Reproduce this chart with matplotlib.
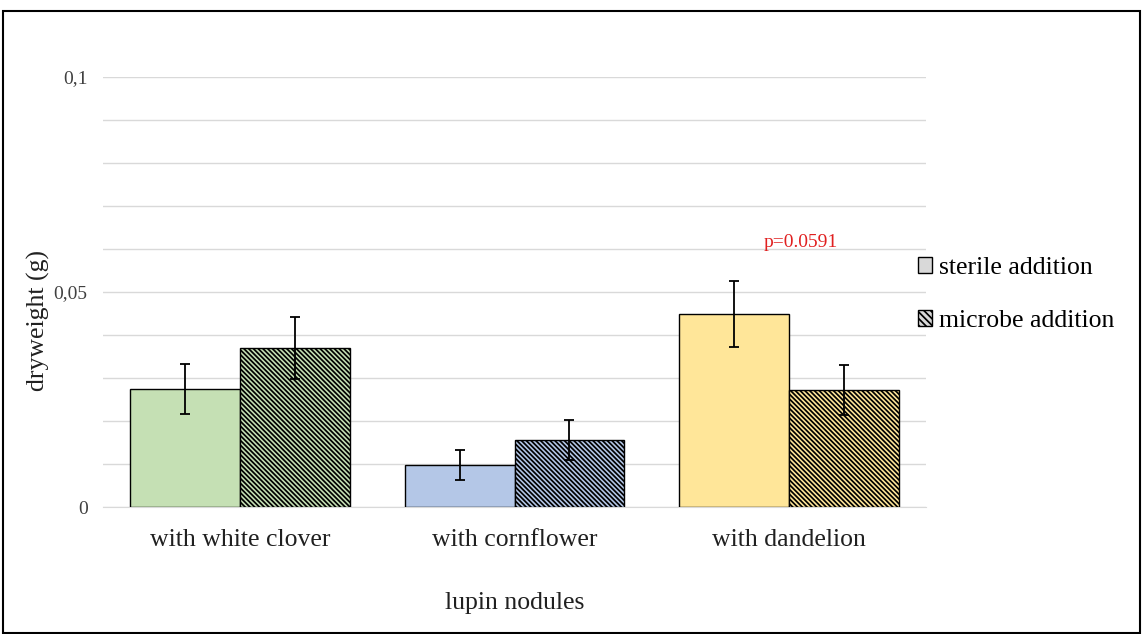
import numpy as np
import matplotlib
matplotlib.use("Agg")
from matplotlib import pyplot as plt
from matplotlib.patches import Patch, Rectangle

# data
categories = ["with white clover", "with cornflower", "with dandelion"]
sterile = [0.0274, 0.0098, 0.0449]
sterile_err = [0.0058, 0.0035, 0.0077]
microbe = [0.0370, 0.0156, 0.0272]
microbe_err = [0.0072, 0.0046, 0.0058]
bar_colors = ["#c5e0b4", "#b4c7e7", "#ffe699"]
series_names = ["sterile addition", "microbe addition"]
y_ticks = [0, 0.05, 0.1]
y_tick_labels = ["0", "0,05", "0,1"]
p_label = "p=0.0591"

plt.rcParams['font.family'] = ['Liberation Serif', 'DejaVu Serif']
plt.rcParams['hatch.linewidth'] = 1.25

W, H = 1143, 634
fig = plt.figure(figsize=(W / 100, H / 100), dpi=100)
ax = fig.add_axes([103 / W, (H - 507) / H, (926 - 103) / W, (507 - 77) / H])

x = np.arange(len(categories))
bw = 0.4
hatch = '\\' * 7

ax.bar(x - bw / 2, sterile, bw, color=bar_colors, edgecolor='black', linewidth=1, zorder=3)
ax.bar(x + bw / 2, microbe, bw, color=bar_colors, edgecolor='black', linewidth=1,
       hatch=hatch, zorder=3)
ax.errorbar(x - bw / 2, sterile, yerr=sterile_err, fmt='none', ecolor='black',
            elinewidth=1.3, capsize=3.5, capthick=1.3, zorder=4)
ax.errorbar(x + bw / 2, microbe, yerr=microbe_err, fmt='none', ecolor='black',
            elinewidth=1.3, capsize=3.5, capthick=1.3, zorder=4)

ax.set_xlim(-0.5, len(categories) - 0.5)
ax.set_ylim(0, 0.1)
ax.set_yticks(np.arange(0, 0.1001, 0.01), minor=True)
ax.set_yticks(y_ticks)
ax.set_yticklabels(y_tick_labels, fontsize=14, color='#404040')
ax.grid(axis='y', which='both', color='#d9d9d9', linewidth=1, zorder=0)
ax.tick_params(axis='y', which='both', length=0, pad=11)
ax.set_xticks(x)
ax.set_xticklabels(categories, fontsize=18.5, color='#202020')
ax.tick_params(axis='x', length=0, pad=16)
for s in ['top', 'right', 'left']:
    ax.spines[s].set_visible(False)
ax.spines['bottom'].set_color('#d9d9d9')

ax.set_ylabel("dryweight (g)", fontsize=18.5, color='#202020', labelpad=3, y=0.433)
ax.set_xlabel("lupin nodules", fontsize=18.5, color='#202020', labelpad=29)

ax.text(x[2] + 0.044, 0.0615, p_label, color='#e02020', fontsize=14, ha='center', va='center')

handles = [Patch(facecolor='#d9d9d9', edgecolor='black', linewidth=1),
           Patch(facecolor='#d9d9d9', edgecolor='black', linewidth=1, hatch='\\' * 5)]
fig.legend(handles, series_names, loc='upper left', bbox_to_anchor=(908 / W, (H - 247) / H),
           frameon=False, fontsize=18.5, handlelength=0.55, handleheight=0.55,
           handletextpad=0.25, labelspacing=1.2, borderaxespad=0)

fig.patches.append(Rectangle((3 / W, 1 / H), (1140 - 3) / W, (H - 12) / H,
                             transform=fig.transFigure, fill=False,
                             edgecolor='black', linewidth=1.5))

fig.savefig("out.png", dpi=100)
